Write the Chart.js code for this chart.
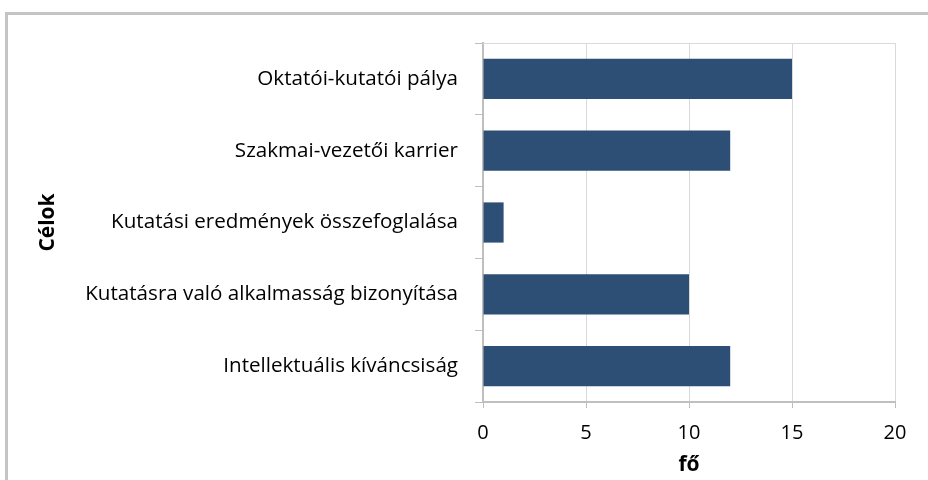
<!DOCTYPE html>
<html>
<head>
<meta charset="utf-8">
<script src="https://cdn.jsdelivr.net/npm/chart.js@4"></script>
<style>
  body { margin: 0; background: #fff; overflow: hidden; }
  #frame { position: absolute; left: 5px; top: 12px; width: 1000px; height: 1000px; border: 3px solid #c4c4c4; }
  #wrap { position: absolute; left: 0; top: 0; width: 928px; height: 480px; }
</style>
</head>
<body>
<div id="frame"></div>
<div id="wrap"><canvas id="chart"></canvas></div>
<script>
// adatok
const categories = [
  'Oktatói-kutatói pálya',
  'Szakmai-vezetői karrier',
  'Kutatási eredmények összefoglalása',
  'Kutatásra való alkalmasság bizonyítása',
  'Intellektuális kíváncsiság'
];
const values = [15, 12, 1, 10, 12];
const xTicks = [0, 5, 10, 15, 20];

const font = '"Open Sans", Lato, sans-serif';

// top edge of the plot area (Excel draws it)
const topLine = {
  id: 'topLine',
  afterDraw(chart) {
    const { ctx, chartArea } = chart;
    ctx.save();
    ctx.strokeStyle = '#d9d9d9';
    ctx.lineWidth = 1;
    ctx.beginPath();
    ctx.moveTo(chartArea.left, chartArea.top + 0.5);
    ctx.lineTo(chartArea.right, chartArea.top + 0.5);
    ctx.stroke();
    ctx.restore();
  }
};

new Chart(document.getElementById('chart'), {
  type: 'bar',
  data: {
    labels: categories,
    datasets: [{
      data: values,
      backgroundColor: '#2d4e75',
      barPercentage: 0.56,
      categoryPercentage: 1
    }]
  },
  options: {
    indexAxis: 'y',
    responsive: true,
    maintainAspectRatio: false,
    animation: false,
    layout: { padding: { left: 35, right: 33, top: 43, bottom: 0 } },
    plugins: { legend: { display: false }, tooltip: { enabled: false } },
    scales: {
      x: {
        min: 0, max: 20,
        afterBuildTicks: s => { s.ticks = xTicks.map(v => ({ value: v })); },
        afterFit: s => { s.height = 78; },
        grid: { color: '#d9d9d9', tickColor: '#bfbfbf', tickLength: 6 },
        border: { color: '#bfbfbf', width: 2 },
        ticks: { color: '#000', font: { family: font, size: 20 }, padding: 13 },
        title: { display: true, text: 'fő', color: '#000', font: { family: font, size: 21, weight: 'bold' }, padding: { top: 0, bottom: 2 } }
      },
      y: {
        afterFit: s => { s.width = 448; },
        grid: { offset: true, drawOnChartArea: false, tickColor: '#bfbfbf', tickLength: 8 },
        border: { color: '#bfbfbf', width: 2 },
        ticks: { color: '#000', font: { family: font, size: 20.6 }, padding: 17 },
        title: { display: true, text: 'Célok', color: '#000', font: { family: font, size: 21, weight: 'bold' }, padding: 0 }
      }
    }
  },
  plugins: [topLine]
});
</script>
</body>
</html>
